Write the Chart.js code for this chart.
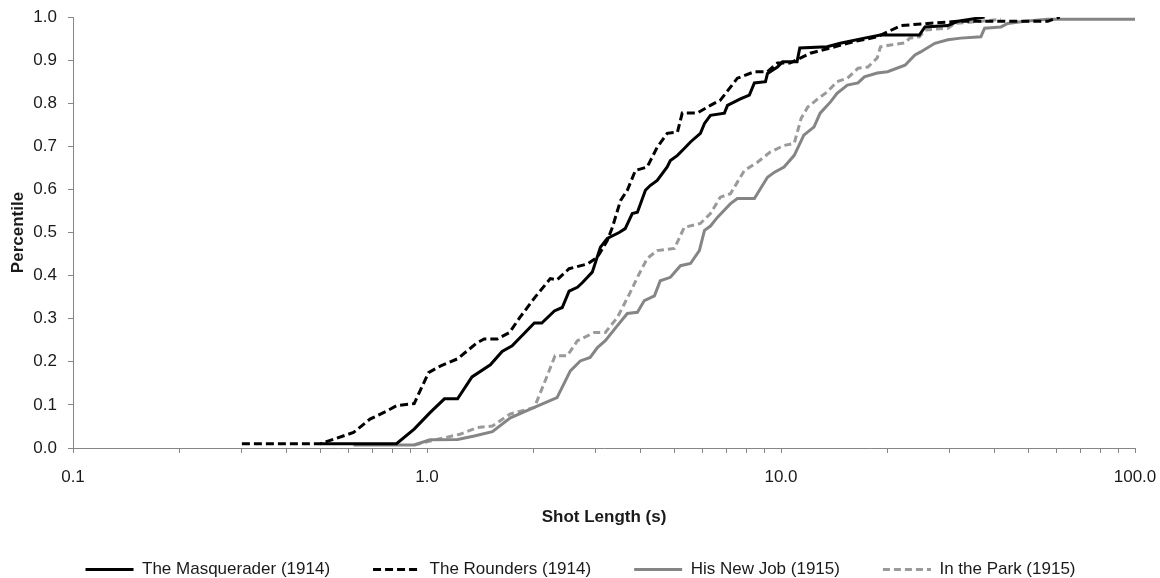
<!DOCTYPE html>
<html>
<head>
<meta charset="utf-8">
<script src="https://cdn.jsdelivr.net/npm/chart.js@4.4.1/dist/chart.umd.min.js"></script>
<style>
  html, body { margin: 0; padding: 0; background: #fff; }
  #wrap { width: 1160px; height: 578px; position: relative; }
</style>
</head>
<body>
<div id="wrap"><canvas id="c" width="1160" height="578"></canvas></div>
<script>
// ---- Data (shot length in seconds, cumulative percentile) ----
const seriesNames = ['The Masquerader (1914)', 'The Rounders (1914)', 'His New Job (1915)', 'In the Park (1915)'];

const masquerader = [[0.5,0.01],[0.82,0.01],[0.92,0.044],[1.02,0.082],[1.12,0.114],[1.22,0.114],[1.34,0.165],[1.51,0.193],[1.63,0.224],[1.74,0.237],[2.01,0.29],[2.11,0.29],[2.29,0.318],[2.41,0.326],[2.52,0.364],[2.66,0.373],[2.75,0.384],[2.93,0.408],[3.09,0.466],[3.23,0.486],[3.49,0.50],[3.63,0.509],[3.80,0.544],[3.93,0.547],[4.14,0.598],[4.27,0.609],[4.47,0.621],[4.77,0.652],[4.87,0.667],[5.10,0.679],[5.33,0.695],[5.55,0.71],[5.92,0.73],[6.08,0.753],[6.32,0.772],[6.92,0.777],[7.06,0.795],[7.68,0.81],[8.14,0.819],[8.41,0.847],[9.04,0.85],[9.16,0.869],[9.77,0.884],[10.1,0.896],[11.1,0.896],[11.3,0.928],[13.5,0.931],[14.7,0.939],[17.2,0.951],[19.1,0.958],[24.6,0.958],[25.5,0.977],[29.6,0.98],[31.6,0.99],[37.6,1.0]];

const rounders = [[0.3,0.01],[0.5,0.01],[0.62,0.036],[0.69,0.067],[0.77,0.086],[0.82,0.098],[0.92,0.103],[1.01,0.175],[1.09,0.19],[1.22,0.207],[1.38,0.243],[1.45,0.253],[1.58,0.253],[1.71,0.268],[1.83,0.303],[2.02,0.35],[2.23,0.393],[2.33,0.39],[2.52,0.416],[2.84,0.427],[3.03,0.443],[3.23,0.481],[3.34,0.512],[3.52,0.574],[3.68,0.598],[3.88,0.644],[4.19,0.652],[4.47,0.698],[4.77,0.73],[5.10,0.733],[5.26,0.777],[5.80,0.777],[6.32,0.795],[6.74,0.807],[7.53,0.858],[8.41,0.873],[9.16,0.873],[9.77,0.893],[10.6,0.893],[12.1,0.916],[14.2,0.931],[16.1,0.943],[18.7,0.954],[21.8,0.98],[26.0,0.985],[31.6,0.99],[56.7,0.99],[61.3,1.0]];

const hisNewJob = [[0.62,0.007],[0.92,0.007],[1.02,0.019],[1.22,0.02],[1.36,0.028],[1.53,0.038],[1.72,0.07],[2.01,0.094],[2.33,0.117],[2.54,0.179],[2.71,0.202],[2.89,0.21],[3.03,0.233],[3.19,0.249],[3.45,0.284],[3.68,0.312],[3.93,0.315],[4.11,0.342],[4.39,0.353],[4.56,0.388],[4.87,0.396],[5.20,0.423],[5.55,0.428],[5.88,0.458],[6.08,0.505],[6.32,0.515],[6.61,0.535],[7.20,0.567],[7.53,0.579],[8.41,0.579],[9.16,0.628],[9.59,0.64],[10.2,0.652],[10.9,0.679],[11.6,0.726],[12.4,0.745],[12.9,0.777],[13.8,0.803],[14.4,0.823],[15.4,0.842],[16.5,0.847],[17.2,0.861],[18.7,0.87],[20.0,0.873],[22.4,0.888],[23.9,0.912],[24.8,0.919],[27.2,0.939],[29.6,0.947],[32.2,0.951],[36.7,0.954],[37.6,0.974],[41.8,0.977],[43.7,0.985],[48.8,0.99],[56.7,0.995],[100,0.995]];

const inThePark = [[0.92,0.007],[1.02,0.016],[1.24,0.032],[1.38,0.047],[1.53,0.051],[1.72,0.079],[2.01,0.094],[2.14,0.149],[2.30,0.214],[2.49,0.214],[2.66,0.249],[2.97,0.268],[3.19,0.268],[3.45,0.303],[3.75,0.361],[3.93,0.396],[4.19,0.44],[4.47,0.458],[5.00,0.463],[5.33,0.512],[5.92,0.521],[6.32,0.544],[6.74,0.582],[7.20,0.59],[7.88,0.644],[8.58,0.663],[9.34,0.687],[10.2,0.702],[10.9,0.707],[11.4,0.765],[11.9,0.791],[12.7,0.81],[13.5,0.826],[14.4,0.85],[15.4,0.858],[16.5,0.881],[17.6,0.884],[18.7,0.905],[19.1,0.931],[20.4,0.935],[22.4,0.94],[23.1,0.951],[24.6,0.954],[25.6,0.97],[29.6,0.974],[31.0,0.985],[36.7,0.99],[41.8,0.995]];

const xTickValues = [0.1,0.2,0.3,0.4,0.5,0.6,0.7,0.8,0.9,1,2,3,4,5,6,7,8,9,10,20,30,40,50,60,70,80,90,100];
const xTickLabels = {0.1: '0.1', 1: '1.0', 10: '10.0', 100: '100.0'};

// ---- Styling ----
const FONT = "'Liberation Sans', Arial, sans-serif";
const FS = 17;
const TEXT = '#1a1a1a';
const AXIS = '#868686';

const toPts = arr => arr.map(p => ({x: p[0], y: p[1]}));
const styles = [
  {color: '#000000', dash: []},
  {color: '#000000', dash: [8, 4]},
  {color: '#858585', dash: []},
  {color: '#9a9a9a', dash: [7, 4]}
];
const seriesData = [masquerader, rounders, hisNewJob, inThePark];

const datasets = seriesData.map((s, i) => ({
  label: seriesNames[i],
  data: toPts(s),
  borderColor: styles[i].color,
  backgroundColor: styles[i].color,
  borderDash: styles[i].dash,
  borderWidth: 3,
  pointRadius: 0,
  pointHoverRadius: 0,
  tension: 0,
  fill: false
}));

// shift the legend so that it is centred on the whole canvas
const legendShift = {
  id: 'legendShift',
  afterLayout(chart) {
    if (chart.legend) { chart.legend.left += 13; chart.legend.right += 13; }
  }
};

new Chart(document.getElementById('c'), {
  type: 'line',
  data: { datasets },
  plugins: [legendShift],
  options: {
    responsive: false,
    animation: false,
    events: [],
    layout: { padding: { top: 17, right: 25, left: 0, bottom: -10 } },
    plugins: {
      tooltip: { enabled: false },
      legend: {
        position: 'bottom',
        labels: {
          usePointStyle: true,
          pointStyle: 'line',
          pointStyleWidth: 48,
          boxHeight: FS,
          padding: 43,
          color: TEXT,
          font: { family: FONT, size: FS },
          generateLabels: chart => {
            const items = Chart.defaults.plugins.legend.labels.generateLabels(chart);
            items.forEach(it => {
              const ds = chart.data.datasets[it.datasetIndex];
              it.lineDash = ds.borderDash;
              it.strokeStyle = ds.borderColor;
              it.fillStyle = ds.borderColor;
              it.lineWidth = 3;
              it.pointStyle = 'line';
            });
            return items;
          }
        }
      }
    },
    scales: {
      x: {
        type: 'logarithmic',
        min: 0.1,
        max: 100,
        afterBuildTicks: scale => { scale.ticks = xTickValues.map(v => ({value: v})); },
        afterFit: scale => { scale.height = 70; scale.paddingLeft = 0; scale.paddingRight = 0; },
        ticks: {
          autoSkip: false,
          maxRotation: 0,
          minRotation: 0,
          padding: 14,
          color: TEXT,
          font: { family: FONT, size: FS },
          callback: v => (xTickLabels[v] !== undefined ? xTickLabels[v] : '')
        },
        grid: { display: true, drawOnChartArea: false, drawTicks: true, tickLength: 5, color: AXIS, lineWidth: 1 },
        border: { display: true, color: AXIS, width: 1 },
        title: {
          display: true,
          text: 'Shot Length (s)',
          color: TEXT,
          font: { family: FONT, size: FS, weight: 'bold' },
          padding: { top: 0, bottom: -10 }
        }
      },
      y: {
        type: 'linear',
        min: 0,
        max: 1,
        afterFit: scale => { scale.width = 73; scale.paddingTop = 0; scale.paddingBottom = 0; },
        ticks: {
          stepSize: 0.1,
          padding: 11,
          color: TEXT,
          font: { family: FONT, size: FS },
          callback: v => Number(v).toFixed(1)
        },
        grid: { display: true, drawOnChartArea: false, drawTicks: true, tickLength: 5, color: AXIS, lineWidth: 1 },
        border: { display: true, color: AXIS, width: 1 },
        title: {
          display: true,
          text: 'Percentile',
          color: TEXT,
          font: { family: FONT, size: FS, weight: 'bold' },
          padding: { top: 8, bottom: 0 }
        }
      }
    }
  }
});
</script>
</body>
</html>
